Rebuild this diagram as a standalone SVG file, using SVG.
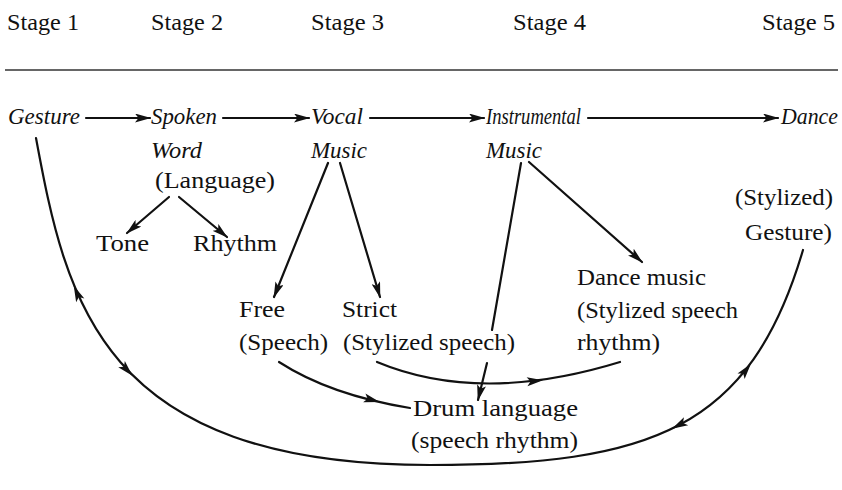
<svg xmlns="http://www.w3.org/2000/svg" xmlns:xlink="http://www.w3.org/1999/xlink" width="842" height="490" viewBox="0 0 842 490">
<style>
text{font-family:"Liberation Serif","Times New Roman",serif;font-size:24px;fill:#111}
.h{font-size:23px}
.i{font-style:italic}
.c{fill:none;stroke:#111;stroke-width:2.2;stroke-linecap:round}
.a{marker-end:url(#ah)}
</style>
<defs>
<marker id="ah" viewBox="0 0 16 9" refX="15" refY="4.5" markerWidth="16" markerHeight="9" markerUnits="userSpaceOnUse" orient="auto">
<path d="M0,0 L16,4.5 L0,9 L3.5,4.5 z" fill="#111"/>
</marker>
<path id="hd" d="M-8,-4.5 L8,0 L-8,4.5 L-4.5,0 z" fill="#111"/>
</defs>
<rect width="842" height="490" fill="#fff"/>
<g id="header">
<text class="h" x="7" y="30" textLength="72" lengthAdjust="spacingAndGlyphs">Stage 1</text>
<text class="h" x="151" y="30" textLength="72" lengthAdjust="spacingAndGlyphs">Stage 2</text>
<text class="h" x="311" y="30" textLength="73" lengthAdjust="spacingAndGlyphs">Stage 3</text>
<text class="h" x="513" y="30" textLength="73" lengthAdjust="spacingAndGlyphs">Stage 4</text>
<text class="h" x="762" y="30" textLength="73" lengthAdjust="spacingAndGlyphs">Stage 5</text>
<line x1="5" y1="70" x2="838" y2="70" stroke="#333" stroke-width="1.5"/>
</g>
<g id="gesture"><text class="i" x="8" y="124" textLength="72" lengthAdjust="spacingAndGlyphs">Gesture</text></g>
<g id="spoken"><text class="i" x="151" y="124" textLength="66" lengthAdjust="spacingAndGlyphs">Spoken</text><text class="i" x="151" y="158" textLength="51" lengthAdjust="spacingAndGlyphs">Word</text><text x="155" y="188" textLength="120" lengthAdjust="spacingAndGlyphs">(Language)</text></g>
<g id="vocal"><text class="i" x="311" y="124" textLength="52" lengthAdjust="spacingAndGlyphs">Vocal</text><text class="i" x="311" y="158" textLength="56" lengthAdjust="spacingAndGlyphs">Music</text></g>
<g id="instrumental"><text class="i" x="486" y="124" textLength="95" lengthAdjust="spacingAndGlyphs">Instrumental</text><text class="i" x="486" y="158" textLength="56" lengthAdjust="spacingAndGlyphs">Music</text></g>
<g id="dance"><text class="i" x="781" y="124" textLength="57" lengthAdjust="spacingAndGlyphs">Dance</text></g>
<g id="stylized-gesture"><text x="735" y="205" textLength="98" lengthAdjust="spacingAndGlyphs">(Stylized)</text><text x="745" y="240" textLength="87" lengthAdjust="spacingAndGlyphs">Gesture)</text></g>
<g id="tone"><text x="96" y="251" textLength="53" lengthAdjust="spacingAndGlyphs">Tone</text></g>
<g id="rhythm"><text x="193" y="251" textLength="84" lengthAdjust="spacingAndGlyphs">Rhythm</text></g>
<g id="free"><text x="239" y="317" textLength="46" lengthAdjust="spacingAndGlyphs">Free</text><text x="239" y="350" textLength="89" lengthAdjust="spacingAndGlyphs">(Speech)</text></g>
<g id="strict"><text x="342" y="317" textLength="55" lengthAdjust="spacingAndGlyphs">Strict</text><text x="343" y="350" textLength="172" lengthAdjust="spacingAndGlyphs">(Stylized speech)</text></g>
<g id="dance-music"><text x="577" y="285" textLength="129" lengthAdjust="spacingAndGlyphs">Dance music</text><text x="577" y="318" textLength="161" lengthAdjust="spacingAndGlyphs">(Stylized speech</text><text x="577" y="350" textLength="83" lengthAdjust="spacingAndGlyphs">rhythm)</text></g>
<g id="drum"><text x="413" y="416" textLength="165" lengthAdjust="spacingAndGlyphs">Drum language</text><text x="411" y="448" textLength="167" lengthAdjust="spacingAndGlyphs">(speech rhythm)</text></g>
<g id="connectors">
<line class="c a" x1="86" y1="118" x2="150" y2="118"/>
<line class="c a" x1="223" y1="118" x2="309" y2="118"/>
<line class="c a" x1="370" y1="118" x2="484" y2="118"/>
<line class="c a" x1="588" y1="118" x2="778" y2="118"/>
<line class="c a" x1="169" y1="197" x2="127" y2="233"/>
<line class="c a" x1="179" y1="197" x2="227" y2="237"/>
<line class="c a" x1="328" y1="163" x2="274" y2="297"/>
<line class="c a" x1="340" y1="163" x2="380" y2="297"/>
<line class="c a" x1="529" y1="162" x2="642" y2="262"/>
<line class="c" x1="521" y1="163" x2="492" y2="330"/>
<line class="c a" x1="487" y1="363" x2="478" y2="400"/>
<path class="c" d="M279,362 Q330,395 410,408"/>
<use xlink:href="#hd" transform="translate(372,400) rotate(15)"/>
<path class="c" d="M377,362 Q480,405 620,362"/>
<use xlink:href="#hd" transform="translate(535,381) rotate(-5)"/>
<path class="c" d="M36,138 C66,300 100,465 430,465 C650,465 750,430 803,250"/>
<use xlink:href="#hd" transform="translate(77,293) rotate(-114)"/>
<use xlink:href="#hd" transform="translate(127,370) rotate(47)"/>
<use xlink:href="#hd" transform="translate(679,425) rotate(152)"/>
<use xlink:href="#hd" transform="translate(746,370) rotate(-52)"/>
</g>
</svg>
